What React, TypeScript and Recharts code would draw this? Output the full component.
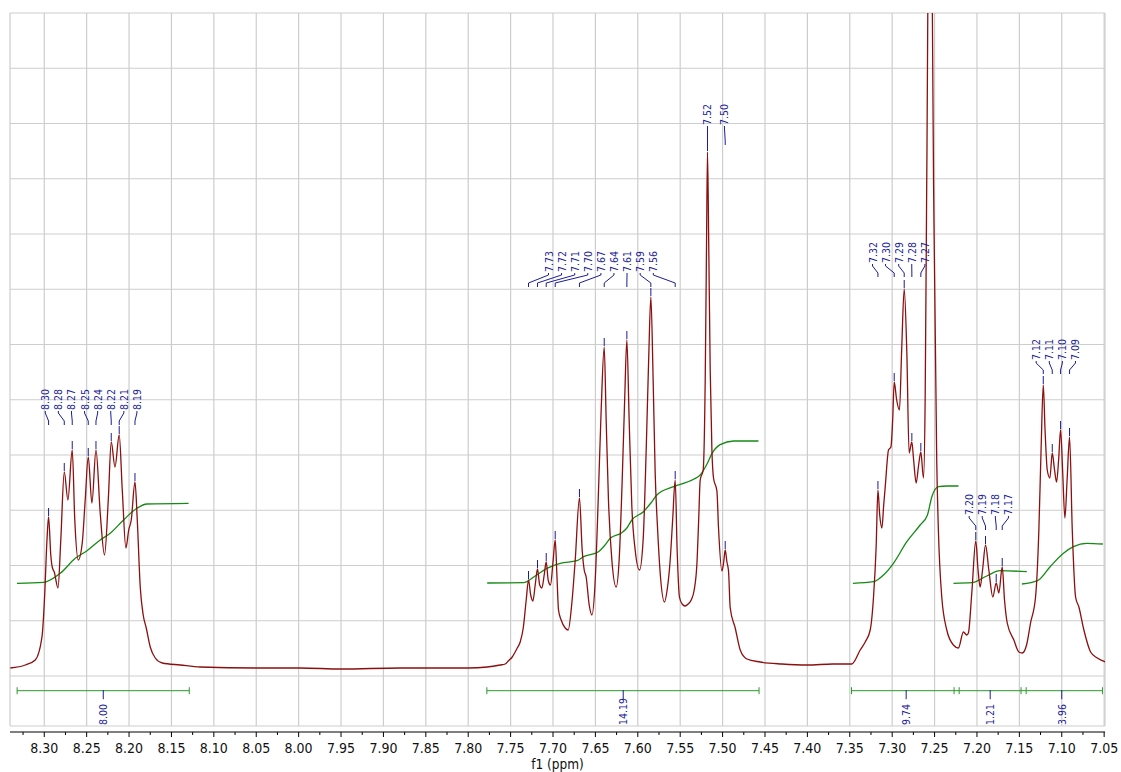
import React from 'react';
import { ComposedChart, Line, Scatter, XAxis, YAxis, CartesianGrid } from 'recharts';

type Pt = [number, number];
// label text, label position (ppm), peak position (ppm), peak height
type Peak = [string, number, number, number];

// spectrum trace: [ppm, intensity], baseline = 0
const regionA: Pt[] = [
  [8.340, 0], [8.3224, 3], [8.3106, 8], [8.3027, 31], [8.2996, 71], [8.2968, 128], [8.2949, 151],
  [8.2923, 113], [8.2906, 101], [8.2882, 96], [8.2838, 80], [8.2805, 128], [8.2764, 196],
  [8.2721, 168], [8.2670, 218], [8.2640, 148], [8.2599, 108], [8.2552, 125], [8.2517, 168],
  [8.2481, 211], [8.2438, 165], [8.2390, 218], [8.2340, 155], [8.2289, 113], [8.2245, 168],
  [8.2210, 226], [8.2166, 201], [8.2116, 233], [8.2080, 178], [8.2037, 120], [8.2004, 138],
  [8.1974, 148], [8.1930, 186], [8.1903, 148], [8.1868, 81], [8.1833, 53], [8.1797, 40],
  [8.1750, 21], [8.1691, 10], [8.1608, 5], [8.1396, 3], [8.1160, 1], [8.05, 0], [7.9981, 0],
  [7.95, -1], [7.8802, 0], [7.80, 0],
];

const regionB: Pt[] = [
  [7.7776, 1], [7.7623, 3], [7.7564, 4], [7.7528, 7], [7.7481, 11], [7.7446, 16], [7.7422, 20],
  [7.7387, 26], [7.7351, 40], [7.7316, 68], [7.7289, 88], [7.7263, 73], [7.7237, 67], [7.7210, 83],
  [7.7183, 99], [7.7157, 83], [7.7131, 80], [7.7104, 93], [7.7080, 106], [7.7057, 88], [7.7030, 83],
  [7.6998, 108], [7.6974, 128], [7.6954, 93], [7.6935, 58], [7.6904, 48], [7.6856, 40], [7.6821, 38],
  [7.6780, 63], [7.6738, 108], [7.6688, 170], [7.6656, 118], [7.6632, 98], [7.6609, 91], [7.6573, 63],
  [7.6541, 53], [7.6502, 88], [7.6467, 168], [7.6432, 258], [7.6396, 321], [7.6373, 248], [7.6346, 168],
  [7.6306, 108], [7.6255, 81], [7.6220, 108], [7.6184, 188], [7.6155, 268], [7.6129, 328], [7.6102, 248],
  [7.6070, 161], [7.6031, 118], [7.5980, 98], [7.5937, 128], [7.5901, 218], [7.5872, 308], [7.5846, 371],
  [7.5819, 288], [7.5795, 195], [7.5766, 138], [7.5736, 95], [7.5685, 66], [7.5654, 78], [7.5618, 108],
  [7.5589, 148], [7.5559, 188], [7.5536, 118], [7.5509, 71], [7.5477, 64], [7.5442, 62], [7.5406, 64],
  [7.5370, 68], [7.5335, 78], [7.5303, 104], [7.5282, 148], [7.5264, 188], [7.5229, 198], [7.5205, 288],
  [7.5190, 418], [7.5178, 516], [7.5164, 428], [7.5146, 298], [7.5126, 218], [7.5107, 190], [7.5067, 177],
  [7.5048, 140], [7.5008, 97], [7.4987, 106], [7.4969, 118], [7.4949, 106], [7.4930, 97], [7.4910, 60],
  [7.4851, 40], [7.4792, 18], [7.4713, 9], [7.4557, 6], [7.43, 4], [7.40, 3], [7.37, 4],
];

const regionC: Pt[] = [
  [7.3476, 4], [7.3377, 18], [7.3318, 26], [7.3259, 38], [7.3220, 71], [7.3189, 121], [7.3168, 178],
  [7.3147, 153], [7.3121, 140], [7.3100, 163], [7.3082, 181], [7.3043, 218], [7.3015, 221], [7.2994, 248],
  [7.2976, 286], [7.2947, 268], [7.2914, 258], [7.2888, 318], [7.2858, 379], [7.2827, 315], [7.2800, 215],
  [7.2768, 226], [7.2747, 208], [7.2717, 185], [7.2688, 203], [7.2662, 216], [7.2631, 190], [7.2611, 268],
  [7.2594, 468], [7.2580, 655], [7.2553, 1668], [7.2526, 655], [7.2506, 438], [7.2474, 205], [7.2455, 138],
  [7.2415, 71], [7.2356, 38], [7.2278, 23], [7.2219, 20], [7.2160, 36], [7.2120, 33], [7.2101, 35],
  [7.2061, 75], [7.2014, 127], [7.1987, 98], [7.1963, 81], [7.1934, 98], [7.1899, 123], [7.1860, 98],
  [7.1813, 71], [7.1773, 85], [7.1742, 75], [7.1702, 101], [7.1675, 68], [7.1643, 45], [7.1565, 28],
  [7.1506, 16], [7.1466, 15], [7.1415, 23], [7.1368, 45], [7.1309, 71], [7.1270, 138], [7.1244, 218],
  [7.1218, 283], [7.1197, 238], [7.1171, 198], [7.1140, 190], [7.1112, 215], [7.1085, 198], [7.1061, 186],
  [7.1037, 208], [7.1014, 238], [7.0990, 198], [7.0963, 150], [7.0937, 188], [7.0908, 231], [7.0876, 138],
  [7.0837, 71], [7.0798, 61], [7.0739, 38], [7.0660, 16], [7.0581, 10], [7.0483, 6],
];

// integral curves
const integralA: Pt[] = [
  [8.3322, 84.7], [8.3008, 85.7], [8.2811, 94.7], [8.2634, 109.7], [8.2496, 117.3], [8.2340, 128],
  [8.2222, 134.7], [8.2065, 148], [8.1907, 159.7], [8.1789, 164], [8.1298, 164.7],
];
const integralB: Pt[] = [
  [7.7776, 85], [7.7348, 85.3], [7.7210, 92], [7.7072, 99.7], [7.6915, 104.7], [7.6718, 107.3],
  [7.6640, 111.3], [7.6463, 116.3], [7.6396, 122], [7.6325, 129.7], [7.6188, 135.3], [7.6129, 140],
  [7.6070, 148], [7.5933, 156.3], [7.5846, 165], [7.5775, 173], [7.5579, 181.3], [7.5343, 188.7],
  [7.5264, 193], [7.5178, 205], [7.5126, 214.4], [7.5028, 223.4], [7.4871, 227], [7.4577, 227],
];
const integralC: Pt[] = [
  [7.3463, 84.7], [7.3220, 86.3], [7.3102, 93], [7.2985, 104.7], [7.2827, 126.3], [7.2670, 143],
  [7.2584, 153], [7.2532, 171.3], [7.2454, 181.3], [7.2355, 182], [7.2218, 182],
];
const integralD: Pt[] = [[7.2277, 84.7], [7.2060, 85.3], [7.1884, 92], [7.1727, 97.3], [7.1412, 96.3]];
const integralE: Pt[] = [
  [7.1470, 84], [7.1286, 87.3], [7.1137, 101.3], [7.0980, 114.7], [7.0862, 121.3], [7.0704, 124.7], [7.0515, 124],
];

// integration ranges and values
const integralRanges: Pt[] = [[8.332, 8.129], [7.778, 7.457], [7.348, 7.227], [7.221, 7.148], [7.142, 7.052]];
const integralCenters = [8.2304, 7.6172, 7.2835, 7.1844, 7.1000];
const integralValues = ['8.00', '14.19', '9.74', '1.21', '3.96'];

// peak picking
const peaks819: Peak[] = [
  ['8.30', 8.2988, 8.2949, 151], ['8.28', 8.2834, 8.2764, 196], ['8.27', 8.2679, 8.2670, 218],
  ['8.25', 8.2525, 8.2481, 211], ['8.24', 8.2370, 8.2390, 218], ['8.22', 8.2216, 8.2210, 226],
  ['8.21', 8.2061, 8.2116, 233], ['8.19', 8.1907, 8.1930, 186],
];
const peaks756: Peak[] = [
  ['7.73', 7.7053, 7.7289, 88], ['7.72', 7.6899, 7.7183, 99], ['7.71', 7.6744, 7.7080, 106],
  ['7.70', 7.6590, 7.6974, 128], ['7.67', 7.6435, 7.6688, 170], ['7.64', 7.6281, 7.6396, 321],
  ['7.61', 7.6127, 7.6129, 328], ['7.59', 7.5972, 7.5846, 371], ['7.56', 7.5817, 7.5559, 188],
];
const peaks750: Peak[] = [['7.52', 7.5178, 7.5178, 516], ['7.50', 7.4978, 7.4969, 118]];
const peaks727: Peak[] = [
  ['7.32', 7.3232, 7.3168, 178], ['7.30', 7.3078, 7.2976, 286], ['7.29', 7.2923, 7.2858, 379],
  ['7.28', 7.2769, 7.2768, 226], ['7.27', 7.2614, 7.2662, 216],
];
const peaks717: Peak[] = [
  ['7.20', 7.2092, 7.2014, 127], ['7.19', 7.1938, 7.1899, 123], ['7.18', 7.1783, 7.1773, 85],
  ['7.17', 7.1629, 7.1702, 101],
];
const peaks709: Peak[] = [
  ['7.12', 7.1302, 7.1218, 283], ['7.11', 7.1147, 7.1112, 215], ['7.10', 7.0993, 7.1014, 238],
  ['7.09', 7.0838, 7.0908, 231],
];

// axis ticks
const majorTicks = [
  8.3, 8.25, 8.2, 8.15, 8.1, 8.05, 8.0, 7.95, 7.9, 7.85, 7.8, 7.75, 7.7, 7.65, 7.6, 7.55, 7.5,
  7.45, 7.4, 7.35, 7.3, 7.25, 7.2, 7.15, 7.1, 7.05,
];
const minorTicks = [
  8.325, 8.275, 8.225, 8.175, 8.125, 8.075, 8.025, 7.975, 7.925, 7.875, 7.825, 7.775, 7.725,
  7.675, 7.625, 7.575, 7.525, 7.475, 7.425, 7.375, 7.325, 7.275, 7.225, 7.175, 7.125, 7.075,
];
const gridLevels = [655, 599.75, 544.5, 489.25, 434, 378.75, 323.5, 268.25, 213, 157.75, 102.5, 47.25, -8, -58];

const X_DOMAIN: [number, number] = [7.049, 8.3404];
const Y_DOMAIN: [number, number] = [-58, 655];

// where each group's labels sit (intensity units) and connector length
const labelLayout: { peaks: Peak[]; base: number; drop: number }[] = [
  { peaks: peaks819, base: 258, drop: 15 },
  { peaks: peaks756, base: 396, drop: 15 },
  { peaks: peaks750, base: 543, drop: 20 },
  { peaks: peaks727, base: 405, drop: 14 },
  { peaks: peaks717, base: 153, drop: 15 },
  { peaks: peaks709, base: 308, drop: 14 },
];
const BAR_Y = -22.7;
const INT_LABEL_Y = -57;

const FONT = "'DejaVu Sans Condensed', 'Liberation Sans', Arial, sans-serif";
const BLUE = '#1c1c9a';
const RED = '#8c0f0f';
const GREEN = '#148a14';

const rows = (pts: Pt[]) => pts.map(([ppm, v]) => ({ ppm, v }));
const gap = (ppm: number) => ({ ppm, v: null as number | null });

const spectrumData = rows([...regionA, ...regionB, ...regionC]);
const integralData = [integralA, integralB, integralC, integralD, integralE].flatMap((seg) => [
  ...rows(seg),
  gap(seg[seg.length - 1][0]),
]);
const peakTickData = labelLayout.flatMap(({ peaks }) =>
  peaks.flatMap(([, , p, h]) => [{ ppm: p, v: h + 1 }, { ppm: p, v: h + 9 }, gap(p)])
);
const connectorData = labelLayout.flatMap(({ peaks, base, drop }) =>
  peaks.flatMap(([, lp, pp]) => [
    { ppm: lp, v: base - 1 },
    { ppm: lp, v: base - 3 },
    { ppm: pp, v: base - drop + 4 },
    { ppm: pp, v: base - drop },
    gap(pp),
  ])
);
const labelData = [
  ...labelLayout.flatMap(({ peaks, base }) => peaks.map(([t, lp]) => ({ ppm: lp, v: base, text: t }))),
  ...integralValues.map((t, i) => ({ ppm: integralCenters[i], v: INT_LABEL_Y, text: t })),
];
const barData = integralRanges.flatMap(([s, e], i) => {
  const next = integralRanges[i + 1];
  const end = next && e - next[0] < 0.01 ? next[0] : e;
  return [
    { ppm: s, v: BAR_Y }, { ppm: end, v: BAR_Y }, gap(end),
    { ppm: s, v: BAR_Y + 3.5 }, { ppm: s, v: BAR_Y - 3.5 }, gap(s),
    { ppm: e, v: BAR_Y + 3.5 }, { ppm: e, v: BAR_Y - 3.5 }, gap(e),
  ];
});
const barTickData = integralCenters.flatMap((c) => [{ ppm: c, v: BAR_Y + 0.7 }, { ppm: c, v: BAR_Y - 8.5 }, gap(c)]);

const majorKeys = new Set(majorTicks.map((t) => t.toFixed(3)));

const AxisTick = (props: any) => {
  const { x, y, payload } = props;
  const major = majorKeys.has(Number(payload.value).toFixed(3));
  return (
    <g>
      <line x1={x} x2={x} y1={y} y2={y + (major ? 5 : 3)} stroke="#000" strokeWidth={1} />
      {major && (
        <text x={x} y={y + 21} textAnchor="middle" fontSize={14} fontFamily={FONT} fill="#111">
          {Number(payload.value).toFixed(2)}
        </text>
      )}
    </g>
  );
};

// the grid axis draws no ticks of its own
const NoTick = () => <g />;

const RotatedLabel = (props: any) => {
  const { cx, cy, payload } = props;
  if (cx == null || cy == null) return null;
  return (
    <text
      x={cx}
      y={cy}
      transform={`rotate(-90 ${cx} ${cy})`}
      textAnchor="start"
      dominantBaseline="central"
      fontSize={10.5}
      fontFamily={FONT}
      fill={BLUE}
    >
      {payload.text}
    </text>
  );
};

export default function App() {
  return (
    <div style={{ position: 'absolute', left: 0, top: 0, width: 1121, height: 772, background: '#fff' }}>
      <ComposedChart width={1121} height={772} margin={{ top: 13, right: 16, bottom: 0, left: 10 }}>
        <XAxis
          xAxisId="main"
          type="number"
          dataKey="ppm"
          domain={X_DOMAIN}
          reversed
          allowDataOverflow
          height={6}
          ticks={majorTicks}
          interval={0}
          tick={NoTick}
          tickLine={false}
          axisLine={false}
        />
        <XAxis
          xAxisId="ticks"
          type="number"
          dataKey="ppm"
          domain={X_DOMAIN}
          reversed
          allowDataOverflow
          height={40}
          ticks={[...majorTicks, ...minorTicks].sort((a, b) => b - a)}
          interval={0}
          tick={AxisTick}
          tickLine={false}
          tickSize={0}
          tickMargin={0}
          axisLine={{ stroke: '#000', strokeWidth: 1 }}
          label={{ value: 'f1 (ppm)', position: 'insideBottom', offset: 3, fontSize: 13.5, fontFamily: FONT, fill: '#111' }}
        />
        <YAxis yAxisId="y" type="number" dataKey="v" domain={Y_DOMAIN} allowDataOverflow hide />
        <CartesianGrid
          xAxisId="main"
          yAxisId="y"
          stroke="#cdcdcd"
          strokeWidth={1.2}
          horizontalValues={gridLevels}
          verticalValues={[X_DOMAIN[1], ...majorTicks, X_DOMAIN[0]]}
        />
        <Line xAxisId="main" yAxisId="y" data={integralData} dataKey="v" type="monotone"
          stroke={GREEN} strokeWidth={1.3} dot={false} isAnimationActive={false} />
        <Line xAxisId="main" yAxisId="y" data={spectrumData} dataKey="v" type="monotone"
          stroke={RED} strokeWidth={1.3} dot={false} isAnimationActive={false} />
        <Line xAxisId="main" yAxisId="y" data={barData} dataKey="v" type="linear"
          stroke="#2a9a2a" strokeWidth={1} dot={false} isAnimationActive={false} />
        <Line xAxisId="main" yAxisId="y" data={barTickData} dataKey="v" type="linear"
          stroke={BLUE} strokeWidth={1} dot={false} isAnimationActive={false} />
        <Line xAxisId="main" yAxisId="y" data={peakTickData} dataKey="v" type="linear"
          stroke={BLUE} strokeWidth={1} dot={false} isAnimationActive={false} />
        <Line xAxisId="main" yAxisId="y" data={connectorData} dataKey="v" type="linear"
          stroke={BLUE} strokeWidth={1} dot={false} isAnimationActive={false} />
        <Scatter xAxisId="main" yAxisId="y" data={labelData} dataKey="v" shape={RotatedLabel}
          isAnimationActive={false} />
      </ComposedChart>
    </div>
  );
}
